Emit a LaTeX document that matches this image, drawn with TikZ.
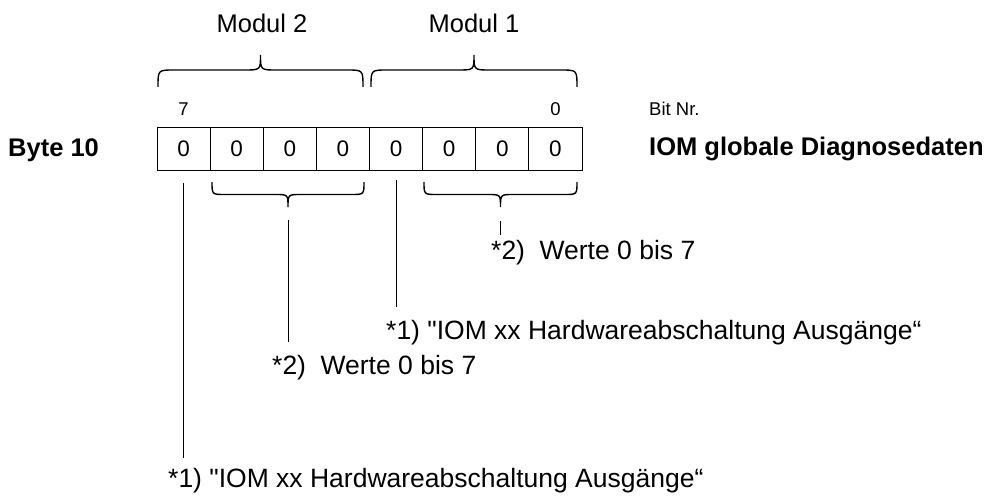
\documentclass[tikz,border=0pt]{standalone}
\usepackage{fontspec}
\setmainfont{Liberation Sans}[Ligatures=TeXOff]
\newcommand{\mybrace}[6]{%
  \pgfmathsetmacro\bxm{(#1+#2)/2}%
  \draw[brace] (#1,#3) .. controls (#1,#4) .. ({#1+#6},#4) -- ({\bxm-#6},#4)
    .. controls (\bxm,#4) .. (\bxm,#5) .. controls (\bxm,#4) .. ({\bxm+#6},#4)
    -- ({#2-#6},#4) .. controls (#2,#4) .. (#2,#3);}
\begin{document}
\begin{tikzpicture}[x=1pt,y=-1pt,
  cell/.style={draw, line width=0.9pt, minimum width=53.125pt, minimum height=43pt, inner sep=0pt, font=\fontsize{22.5}{27}\selectfont},
  lbl/.style={inner sep=0pt, anchor=west, font=\fontsize{26.5}{31}\selectfont},
  boldlbl/.style={inner sep=0pt, anchor=west, font=\fontsize{25.5}{30}\selectfont\bfseries},
  modlbl/.style={inner sep=0pt, font=\fontsize{25.5}{30}\selectfont},
  bitlbl/.style={inner sep=0pt, font=\fontsize{18.5}{22}\selectfont},
  brace/.style={line width=1.4pt},
  lead/.style={line width=0.9pt}]
\useasboundingbox (0,0) rectangle (1004,497);
% cells
\foreach \i in {1,...,8} {
  \node[cell] (c\i) at ({157+53.125*(\i-0.5)},148.5) {0};
}
% labels left/right
\node[boldlbl] (byte) at (8,150.7) {Byte 10};
\node[boldlbl] (iom) at (649,149) {IOM globale Diagnosedaten};
% bit labels
\node[bitlbl, anchor=base] (b7) at (183.6,116) {7};
\node[bitlbl, anchor=base] (b0) at (555.4,116) {0};
\node[bitlbl, anchor=base west] (bitnr) at (649,116) {Bit Nr.};
% module labels and braces
\node[modlbl] (m2) at (262,23.5) {Modul 2};
\node[modlbl] (m1) at (474,23.5) {Modul 1};
\mybrace{158}{363}{87}{70}{55}{16}
\mybrace{371}{577}{87}{70}{55}{16}
% lower braces
\mybrace{212}{364}{182}{194.5}{207}{13}
\mybrace{424}{577}{182}{194.5}{207}{13}
% leader lines
\coordinate (l1a) at (183.6,183);
\coordinate (l1b) at (183.6,458);
\coordinate (l2a) at (288,220);
\coordinate (l2b) at (288,342);
\coordinate (l3a) at (396,180);
\coordinate (l3b) at (396,307);
\coordinate (l4a) at (500.5,221);
\coordinate (l4b) at (500.5,235);
\draw[lead] (l1a) -- (l1b);
\draw[lead] (l2a) -- (l2b);
\draw[lead] (l3a) -- (l3b);
\draw[lead] (l4a) -- (l4b);
% notes
\node[lbl] (n4) at (491,253) {*2)\hspace{0.55em}Werte 0 bis 7};
\node[lbl] (n3) at (386,333) {*1) "IOM xx Hardwareabschaltung Ausgänge“};
\node[lbl] (n2) at (272,368) {*2)\hspace{0.55em}Werte 0 bis 7};
\node[lbl] (n1) at (168,481) {*1) "IOM xx Hardwareabschaltung Ausgänge“};
\end{tikzpicture}
\end{document}
